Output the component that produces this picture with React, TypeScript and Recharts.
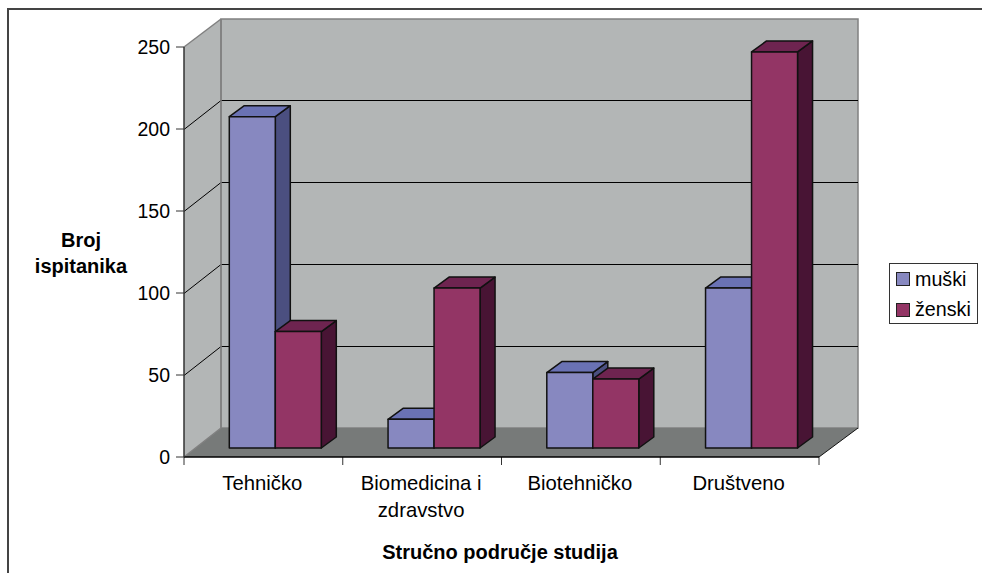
import { BarChart, Bar, XAxis, YAxis, Legend, Text, usePlotArea } from 'recharts'

const categories = ['Tehničko', 'Biomedicina i zdravstvo', 'Biotehničko', 'Društveno']
const muski = [202, 17.5, 46, 97.5]
const zenski = [71, 97.5, 42, 241.5]
const yTicks = [0, 50, 100, 150, 200, 250]

const data = categories.map((name, i) => ({ name, muski: muski[i], zenski: zenski[i] }))

const FONT = 'Liberation Sans, Arial, sans-serif'
// perspective offset of the back wall, and of the front face of the bars
const DEPTH_X = 37
const DEPTH_Y = 29
const BAR_X = 11.5
const BAR_Y = 9
const BAR_DX = 15
const BAR_DY = 11

function Walls() {
  const plot = usePlotArea()
  if (!plot) return null
  const { x, y, width, height } = plot
  const bottom = y + height
  const right = x + width
  const bx = x + DEPTH_X
  const bw = right + DEPTH_X + 2
  const tickY = (t: number) => Math.round(bottom - (height * t) / 250) + 0.5
  return (
    <g>
      <polygon points={`${x},${y} ${bx},${y - DEPTH_Y + 1} ${bx},${bottom - DEPTH_Y} ${x},${bottom}`} fill="#b3b6b6" />
      <rect x={bx} y={y - DEPTH_Y + 1} width={bw - bx} height={height - 1} fill="#b3b6b6" stroke="#808080" strokeWidth={1.5} />
      <polygon points={`${x},${bottom} ${right},${bottom} ${bw},${bottom - DEPTH_Y} ${bx},${bottom - DEPTH_Y}`} fill="#777a79" />
      {yTicks.filter(t => t > 0 && t < 250).map(t => (
        <g key={t} stroke="#000" strokeWidth={1}>
          <line x1={x} y1={tickY(t)} x2={bx} y2={tickY(t) - DEPTH_Y} />
          <line x1={bx} y1={tickY(t) - DEPTH_Y} x2={bw} y2={tickY(t) - DEPTH_Y} />
        </g>
      ))}
      <line x1={x} y1={y} x2={bx} y2={y - DEPTH_Y + 1} stroke="#808080" strokeWidth={1.5} />
      <line x1={x} y1={bottom} x2={bx} y2={bottom - DEPTH_Y} stroke="#808080" strokeWidth={1.5} />
      <line x1={bx} y1={y - DEPTH_Y + 1} x2={bx} y2={bottom - DEPTH_Y} stroke="#808080" strokeWidth={1.5} />
      <line x1={right} y1={bottom} x2={bw} y2={bottom - DEPTH_Y} stroke="#111" strokeWidth={1} />
      {[0, 1, 2, 3, 4].map(i => (
        <line
          key={i}
          x1={x + (width * i) / 4}
          y1={bottom}
          x2={x + (width * i) / 4}
          y2={bottom + 8}
          stroke="#333"
          strokeWidth={1}
        />
      ))}
    </g>
  )
}

const bar3d = (top: string, side: string) => (props: any) => {
  const { x, y, width, height, fill } = props
  const fx = x + BAR_X
  const fy = y - BAR_Y
  const r = fx + width
  const b = fy + height
  return (
    <g stroke="#111" strokeWidth={1.5} strokeLinejoin="round">
      <polygon points={`${r},${fy} ${r + BAR_DX},${fy - BAR_DY} ${r + BAR_DX},${b - BAR_DY} ${r},${b}`} fill={side} />
      <polygon points={`${fx},${fy} ${fx + BAR_DX},${fy - BAR_DY} ${r + BAR_DX},${fy - BAR_DY} ${r},${fy}`} fill={top} />
      <rect x={fx} y={fy} width={width} height={height} fill={fill} />
    </g>
  )
}

function CategoryTick({ x, y, payload }: any) {
  return (
    <Text
      x={x - 1}
      y={y + 2.5}
      width={135}
      textAnchor="middle"
      verticalAnchor="start"
      lineHeight={27}
      fontSize={20.3}
      fontFamily={FONT}
      fill="#000"
    >
      {payload.value}
    </Text>
  )
}

function LegendBox() {
  const rows = [
    { label: 'muški', color: '#8788c0' },
    { label: 'ženski', color: '#933565' },
  ]
  return (
    <div style={{ width: 87, height: 59, border: '1.5px solid #333', background: '#fff', fontFamily: FONT, fontSize: 19.7 }}>
      {rows.map(r => (
        <div key={r.label} style={{ display: 'flex', alignItems: 'center', height: 30.5, paddingLeft: 6 }}>
          <span style={{ width: 12, height: 12, background: r.color, border: '1.5px solid #222', marginRight: 5 }} />
          {r.label}
        </div>
      ))}
    </div>
  )
}

function Titles() {
  return (
    <g fontFamily={FONT} fontWeight="bold" fontSize={20} textAnchor="middle" fill="#000">
      <text x={81} y={247}>Broj</text>
      <text x={81} y={273}>ispitanika</text>
      <text x={500} y={559}>Stručno područje studija</text>
    </g>
  )
}

export default function App() {
  return (
    <div style={{ position: 'absolute', left: 0, top: 0, width: 982, height: 573, overflow: 'hidden', background: '#fff' }}>
      <div style={{ position: 'absolute', left: 6.5, top: 8, right: -5, bottom: -5, border: '2px solid #444' }} />
      <BarChart
        width={982}
        height={573}
        data={data}
        margin={{ top: 47, right: 163, left: 124, bottom: 36 }}
        barGap={0}
        barCategoryGap={33.8}
        style={{ position: 'absolute', left: 0, top: 0 }}
      >
        <Walls />
        <XAxis
          dataKey="name"
          height={80}
          interval={0}
          tick={<CategoryTick />}
          tickLine={false}
          tickMargin={10}
          axisLine={{ stroke: '#000', strokeWidth: 1.5 }}
        />
        <YAxis
          width={60}
          domain={[0, 250]}
          ticks={yTicks}
          tickSize={8}
          tickMargin={6}
          tick={{ fill: '#000', fontSize: 19.5, fontFamily: FONT }}
          axisLine={{ stroke: '#333', strokeWidth: 1.5 }}
          tickLine={{ stroke: '#333' }}
        />
        <Bar dataKey="muski" name="muški" fill="#8788c0" isAnimationActive={false} shape={bar3d('#6a72b4', '#4b4f80')} />
        <Bar dataKey="zenski" name="ženski" fill="#933565" isAnimationActive={false} shape={bar3d('#6e2450', '#481434')} />
        <Legend
          layout="vertical"
          align="center"
          verticalAlign="middle"
          content={<LegendBox />}
          wrapperStyle={{ left: 889, top: 263, width: 90, height: 62 }}
        />
        <Titles />
      </BarChart>
    </div>
  )
}
